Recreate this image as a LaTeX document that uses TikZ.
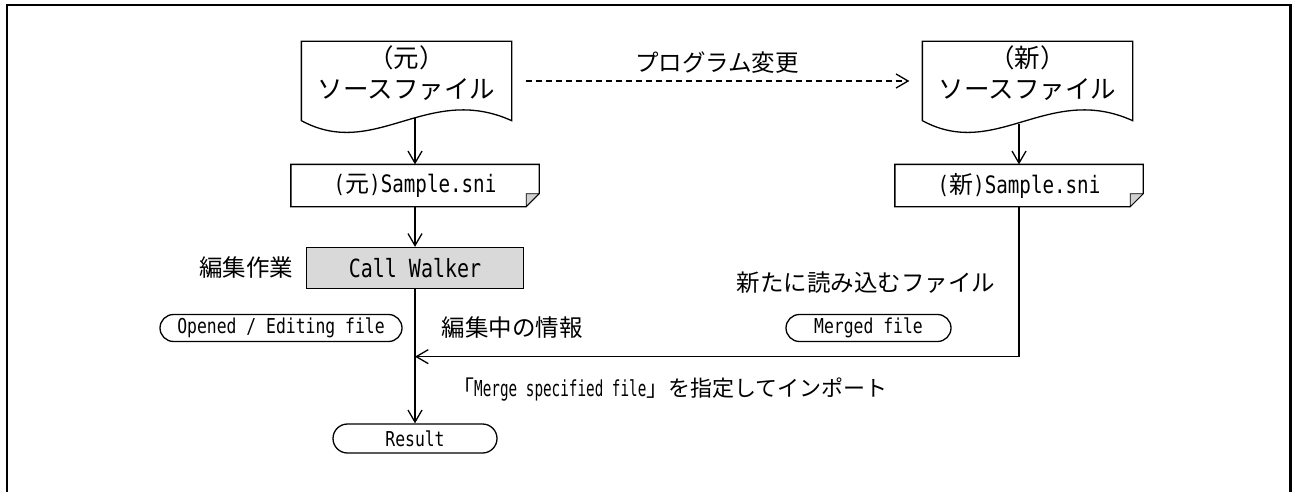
\documentclass[tikz,border=0pt]{standalone}
\usepackage{fontspec}
\setmainfont{Noto Sans CJK JP}
\newfontfamily\lat{DejaVu Sans Mono}[FakeStretch=0.8]
\newfontfamily\latc{DejaVu Sans Mono}[FakeStretch=0.65]
\usetikzlibrary{arrows.meta,shapes.misc,calc}
\newcommand\mydocoutline[1]{\draw[fill=white] (#1.north west) -- (#1.north east) -- (#1.south east)
  .. controls ([yshift=38pt]$(#1.south west)!0.6!(#1.south east)$) and ([yshift=-40pt]$(#1.south west)!0.35!(#1.south east)$) .. (#1.south west) -- cycle;}
\newcommand\mysampleoutline[1]{\draw (#1.north west) -- (#1.north east) -- ([yshift=13pt]#1.south east) -- ([xshift=-13pt]#1.south east) -- (#1.south west) -- cycle;
  \filldraw[fill=black!18, line width=0.8pt] ([yshift=13pt]#1.south east) -- ([xshift=-13pt,yshift=13pt]#1.south east) -- ([xshift=-13pt]#1.south east) -- cycle;}
\begin{document}
\begin{tikzpicture}[x=1pt,y=-1pt,line width=1.3pt,
  >={Straight Barb[length=12pt,width=14pt]},
  jp/.style={font=\fontsize{23.5}{31}\selectfont, inner sep=0pt},
  doctext/.style={font=\fontsize{25.5}{31}\selectfont, inner sep=0pt, align=center},
  docnode/.style={minimum width=209pt, minimum height=78pt, inner sep=0pt},
  sample/.style={minimum width=247pt, minimum height=41pt, inner sep=0pt, font=\fontsize{24}{28}\selectfont},
  term/.style={rounded rectangle, draw, minimum height=27pt, inner sep=0pt, font=\lat\fontsize{20.5}{24}\selectfont},
  cwbox/.style={draw, fill=black!15, minimum width=217pt, minimum height=41pt, inner sep=0pt, font=\lat\fontsize{25}{28}\selectfont},
  dashline/.style={dash pattern=on 6pt off 4pt}]
\useasboundingbox (0,0) rectangle (1292,492);
\draw[line width=2.5pt] (7,510) -- (7,5) -- (1290.5,5) -- (1290.5,510);
% documents
\node[docnode] (dL) at (406.5,81) {};
\mydocoutline{dL}
\node[doctext] (tL) at ([yshift=8pt]dL.center) {（元）\\ソースファイル};
\node[docnode] (dR) at (1027.5,81) {};
\mydocoutline{dR}
\node[doctext] (tR) at ([yshift=8pt]dR.center) {（新）\\ソースファイル};
% sample files
\node[sample] (sL) at (415,185.5) {{\lat(}元{\lat)Sample.sni}};
\mysampleoutline{sL}
\node[sample] (sR) at (1019,185.5) {{\lat(}新{\lat)Sample.sni}};
\mysampleoutline{sR}
% call walker
\node[cwbox] (cw) at (415,268) {Call Walker};
% terminators
\node[term, minimum width=242pt] (ot) at (281,328) {Opened / Editing file};
\node[term, minimum width=165pt] (mf) at (868.5,328) {Merged file};
\node[term, minimum width=164pt, minimum height=29pt] (res) at (415,438.5) {Result};
% labels
\node[jp] (lprog) at (717,63) {プログラム変更};
\node[jp] (ledit) at (246,268) {編集作業};
\node[jp] (linfo) at (512,328) {編集中の情報};
\node[jp] (lnew) at (866,283) {新たに読み込むファイル};
\node[jp, font=\fontsize{22}{26}\selectfont] (lmerge) at (670,390) {「{\latc Merge specified file}」を指定してインポート};
% connectors
\coordinate (aL) at ($(sL.north |- dL.south)+(0,-3)$);
\coordinate (aR) at ($(sR.north |- dR.south)+(0,3)$);
\draw[->] (aL) -- (sL.north);
\draw[->] (aR) -- (sR.north);
\draw[->] (sL.south) -- (cw.north);
\draw[->] (cw.south) -- (res.north);
\draw[->,dashline] ($(dL.east)+(14,0)$) -- ($(dR.west)+(-13,0)$);
\coordinate (mc) at ($(sR.south)+(0,150)$);
\draw[->] (sR.south) -- (mc) -- (cw.south |- mc);
\end{tikzpicture}
\end{document}
